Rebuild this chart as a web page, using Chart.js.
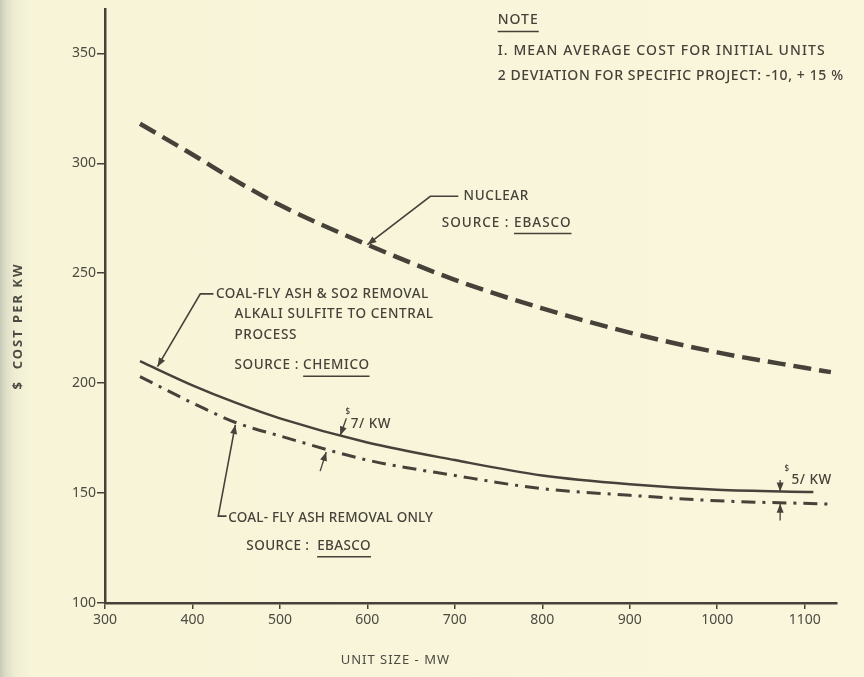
<!DOCTYPE html>
<html>
<head>
<meta charset="utf-8">
<script src="https://cdn.jsdelivr.net/npm/chart.js@4.4.1/dist/chart.umd.min.js"></script>
<style>
  html, body { margin: 0; padding: 0; }
  body {
    width: 864px; height: 677px; overflow: hidden;
    background: linear-gradient(to right, #c9cab6 0px, #dedfc8 6px, #eeedd2 14px, #f7f4d8 30px, #f9f6dc 100%);
  }
  canvas { display: block; }
</style>
</head>
<body>
<canvas id="grafico" width="864" height="677"></canvas>
<script>
// Datos (MW / $ por kW)
const xTicks = [300, 400, 500, 600, 700, 800, 900, 1000, 1100];
const yTicks = [100, 150, 200, 250, 300, 350];

const nuclearMW   = [340, 400, 450, 500, 600, 700, 800, 900, 1000, 1100, 1130];
const nuclearCost = [318, 304, 292, 281, 263, 247, 234, 223, 214, 207, 205];

const so2MW   = [340, 400, 450, 500, 600, 700, 800, 900, 1000, 1110];
const so2Cost = [210, 199, 191, 184, 173, 165, 158, 154, 151.5, 150.5];

const flyAshMW   = [340, 400, 450, 500, 600, 700, 800, 900, 1000, 1130];
const flyAshCost = [203, 191, 182, 176, 165, 158, 152, 149, 146.5, 145];

const tinta = '#46423a';
const fuente = '"Noto Sans", "DejaVu Sans", sans-serif';

function puntos(xs, ys) {
    return xs.map((x, i) => ({ x: x, y: ys[i] }));
}

// Plugin para notas, flechas y rótulos
const notas = {
    id: 'notas',
    afterDatasetsDraw(chart) {
        const ctx = chart.ctx;
        const sx = chart.scales.x, sy = chart.scales.y;
        const px = v => sx.getPixelForValue(v);
        const py = v => sy.getPixelForValue(v);

        ctx.save();
        ctx.fillStyle = tinta;
        ctx.strokeStyle = tinta;
        ctx.textBaseline = 'middle';
        ctx.textAlign = 'left';

        function texto(t, x, y, size, espacio, subrayar) {
            ctx.font = '500 ' + size + 'px ' + fuente;
            ctx.letterSpacing = (espacio || 0) + 'px';
            ctx.fillText(t, px(x), py(y));
            if (subrayar) {
                const pre = subrayar[0] ? ctx.measureText(subrayar[0]).width : 0;
                const w = ctx.measureText(subrayar[1]).width;
                ctx.lineWidth = 1.5;
                ctx.beginPath();
                ctx.moveTo(px(x) + pre, py(y) + size * 0.8);
                ctx.lineTo(px(x) + pre + w, py(y) + size * 0.8);
                ctx.stroke();
            }
            ctx.letterSpacing = '0px';
        }

        function flecha(pts, ancho) {
            ctx.lineWidth = ancho || 1.6;
            ctx.beginPath();
            ctx.moveTo(px(pts[0][0]), py(pts[0][1]));
            for (let i = 1; i < pts.length; i++) ctx.lineTo(px(pts[i][0]), py(pts[i][1]));
            ctx.stroke();
            // punta en el último punto
            const a = pts[pts.length - 2], b = pts[pts.length - 1];
            const x1 = px(a[0]), y1 = py(a[1]), x2 = px(b[0]), y2 = py(b[1]);
            const ang = Math.atan2(y2 - y1, x2 - x1);
            const L = 9, W = 3.5;
            ctx.beginPath();
            ctx.moveTo(x2, y2);
            ctx.lineTo(x2 - L * Math.cos(ang) + W * Math.sin(ang), y2 - L * Math.sin(ang) - W * Math.cos(ang));
            ctx.lineTo(x2 - L * Math.cos(ang) - W * Math.sin(ang), y2 - L * Math.sin(ang) + W * Math.cos(ang));
            ctx.closePath();
            ctx.fill();
        }

        // NOTE
        texto('NOTE', 749, 365, 14, 1, ['', 'NOTE']);
        texto('I. MEAN AVERAGE COST FOR INITIAL UNITS', 749, 351, 14, 1.1);
        texto('2 DEVIATION FOR SPECIFIC PROJECT: -10, + 15 %', 749, 339.6, 14, 0.6);

        // Nuclear
        texto('NUCLEAR', 710, 285, 13.5, 0.6);
        texto('SOURCE : EBASCO', 685, 273, 13.5, 1, ['SOURCE : ', 'EBASCO']);
        flecha([[704, 285], [672, 285], [600, 263]]);

        // Carbón con SO2
        texto('COAL-FLY ASH & SO2 REMOVAL', 427, 240.6, 13.5, 0.5);
        texto('ALKALI SULFITE TO CENTRAL', 448, 231.5, 13.5, 0.6);
        texto('PROCESS', 448, 222, 13.5, 0.6);
        texto('SOURCE : CHEMICO', 448, 208, 13.5, 0.6, ['SOURCE : ', 'CHEMICO']);
        flecha([[424, 240.6], [409, 240.6], [360, 207.5]]);

        // $7/KW
        texto('$', 575, 187, 8);
        texto('7/ KW', 581, 181.5, 13.5, 0.5);
        flecha([[576, 184], [569, 176.2]], 1.3);
        flecha([[546, 160], [553, 168.7]], 1.3);

        // $5/KW
        texto('$', 1077, 161, 8);
        texto('5/ KW', 1085, 156, 13.5, 0.5);
        flecha([[1072, 156], [1072, 150.7]], 1.3);
        flecha([[1072, 137.5], [1072, 145.2]], 1.3);

        // Sólo cenizas
        texto('COAL- FLY ASH REMOVAL ONLY', 441, 138.6, 13.5, 0.2);
        texto('SOURCE :  EBASCO', 461.6, 126, 13.5, 0.4, ['SOURCE :  ', 'EBASCO']);
        flecha([[439, 139.5], [429.5, 139.5], [449, 181]]);

        // Títulos de ejes
        ctx.font = '13px ' + fuente;
        ctx.letterSpacing = '1px';
        ctx.textAlign = 'center';
        ctx.fillStyle = '#4d4a42';
        ctx.fillText('UNIT SIZE - MW', px(632), 660);
        ctx.translate(18, py(226));
        ctx.rotate(-Math.PI / 2);
        ctx.font = 'bold 13px ' + fuente;
        ctx.letterSpacing = '2px';
        ctx.fillText('$  COST PER KW', 0, 0);

        ctx.restore();
    }
};

const ctx = document.getElementById('grafico').getContext('2d');
new Chart(ctx, {
    type: 'line',
    data: {
        datasets: [
            {
                label: 'Nuclear',
                data: puntos(nuclearMW, nuclearCost),
                borderColor: tinta,
                borderWidth: 4.5,
                borderDash: [18, 8],
                pointRadius: 0,
                cubicInterpolationMode: 'monotone',
                fill: false
            },
            {
                label: 'Coal - fly ash & SO2 removal',
                data: puntos(so2MW, so2Cost),
                borderColor: tinta,
                borderWidth: 2.5,
                pointRadius: 0,
                cubicInterpolationMode: 'monotone',
                fill: false
            },
            {
                label: 'Coal - fly ash removal only',
                data: puntos(flyAshMW, flyAshCost),
                borderColor: tinta,
                borderWidth: 3,
                borderDash: [14, 7, 3, 7],
                pointRadius: 0,
                cubicInterpolationMode: 'monotone',
                fill: false
            }
        ]
    },
    options: {
        responsive: false,
        animation: false,
        layout: { padding: { top: 9, right: 27, left: 0, bottom: 0 } },
        plugins: {
            legend: { display: false },
            tooltip: { enabled: false }
        },
        scales: {
            x: {
                type: 'linear',
                min: 300,
                max: 1137,
                afterBuildTicks: s => { s.ticks = xTicks.map(v => ({ value: v })); },
                afterFit: s => { s.height = 74; },
                border: { display: true, color: tinta, width: 2.5 },
                grid: { drawOnChartArea: false, drawTicks: true, tickLength: 6, color: tinta, lineWidth: 1.5 },
                ticks: {
                    color: '#4d4a42', font: { family: fuente, size: 14 }, padding: 3, maxRotation: 0,
                    callback: v => String(v)
                }
            },
            y: {
                type: 'linear',
                min: 100,
                max: 370,
                afterBuildTicks: s => { s.ticks = yTicks.map(v => ({ value: v })); },
                afterFit: s => { s.width = 105; },
                border: { display: true, color: tinta, width: 2.5 },
                grid: { drawOnChartArea: false, drawTicks: true, tickLength: 8, color: tinta, lineWidth: 1.5 },
                ticks: {
                    color: '#4d4a42', font: { family: fuente, size: 14 }, padding: 1,
                    callback: v => String(v)
                }
            }
        }
    },
    plugins: [notas]
});
</script>
</body>
</html>
